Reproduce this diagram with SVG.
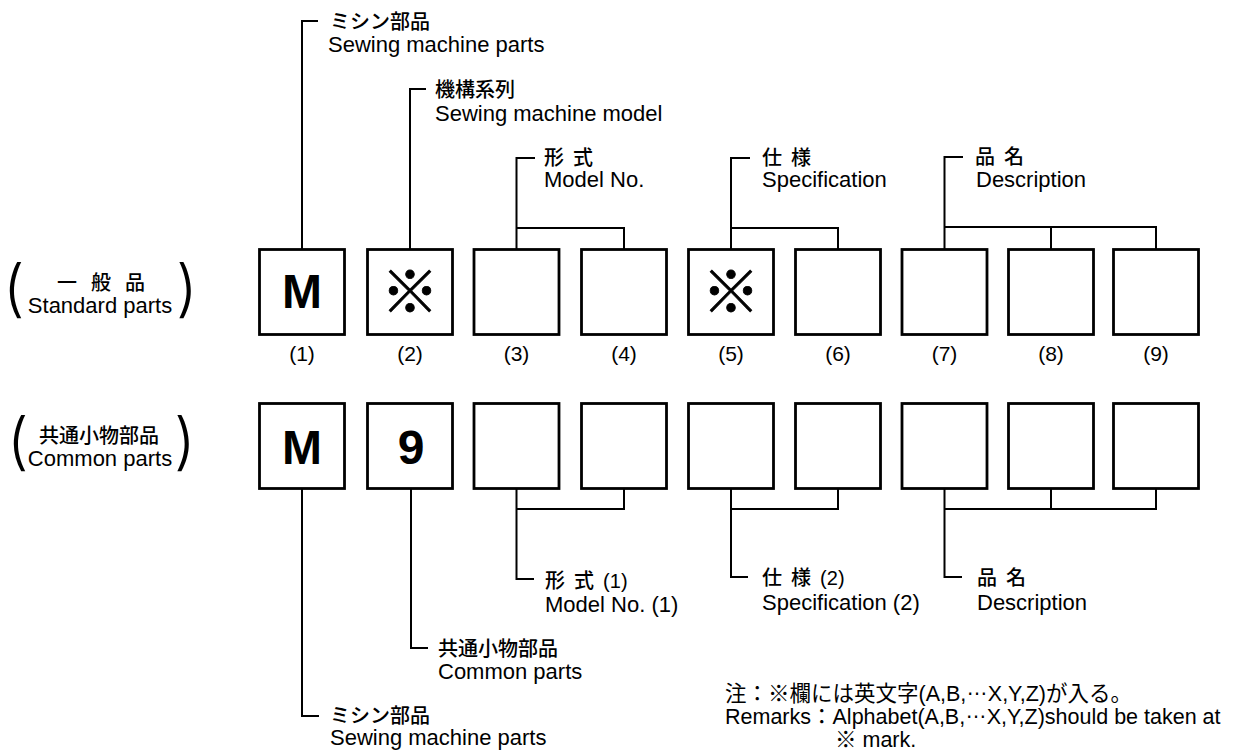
<svg xmlns="http://www.w3.org/2000/svg" width="1234" height="751" viewBox="0 0 1234 751">
<style>
.t{font-family:'Liberation Sans','Noto Sans CJK JP',sans-serif;font-size:22px;fill:#000}
.j{font-family:'Liberation Sans','Noto Sans CJK JP',sans-serif;font-size:20px;font-weight:500;fill:#000;word-spacing:3.5px}
.n{font-family:'Liberation Sans',sans-serif;font-size:21px;text-anchor:middle;fill:#000}
.box{fill:#fff;stroke:#000;stroke-width:2.8}
.big{font-family:'Liberation Sans',sans-serif;font-size:48px;font-weight:bold;text-anchor:middle;fill:#000}
.kome{font-family:'Noto Sans CJK JP',sans-serif;font-size:58px;font-weight:bold;text-anchor:middle;fill:#000;stroke:#000;stroke-width:0.8}
.c{fill:none;stroke:#000;stroke-width:2}
.p{font-family:Inter,'Liberation Sans',sans-serif;font-size:62px;font-weight:300;fill:#000}
.mid{text-anchor:middle}
.r{font-size:21.5px}
</style>
<rect width="1234" height="751" fill="#fff"/>

<g id="connectors" class="c">
<path d="M318,21 H302 V249.5"/>
<path d="M426,89 H410 V249.5"/>
<path d="M535,158 H516.5 V249.5 M516.5,228 H624 V249.5"/>
<path d="M750,158 H731 V249.5 M731,228 H838 V249.5"/>
<path d="M963,157 H944.5 V249.5 M944.5,227 H1156 V249.5 M1051,227 V249.5"/>
<path d="M302,488.5 V716 H319"/>
<path d="M411,488.5 V648 H428"/>
<path d="M516.5,488.5 V579 H534 M516.5,509 H624 V488.5"/>
<path d="M731,488.5 V577 H748 M731,509 H838 V488.5"/>
<path d="M944.5,488.5 V577 H962 M944.5,509 H1156 V488.5 M1051,509 V488.5"/>
</g>

<g id="row-standard-label">
<text class="p" x="3" y="310">(</text>
<text class="j" x="57 77 91 111 125" y="290">一 般 品</text>
<text class="t mid" x="100" y="313">Standard parts</text>
<text class="p" x="176" y="310">)</text>
</g>
<g id="row-common-label">
<text class="p" x="7" y="463">(</text>
<text class="j mid" x="99" y="443">共通小物部品</text>
<text class="t mid" x="100" y="466">Common parts</text>
<text class="p" x="174" y="463">)</text>
</g>

<g id="s1"><rect class="box" x="259.5" y="249.5" width="85" height="85"/><text class="big" x="302" y="308">M</text><text class="n" x="302" y="361">(1)</text></g>
<g id="s2"><rect class="box" x="367.5" y="249.5" width="85" height="85"/><text class="kome" x="410" y="313">※</text><text class="n" x="410" y="361">(2)</text></g>
<g id="s3"><rect class="box" x="474" y="249.5" width="85" height="85"/><text class="n" x="516.5" y="361">(3)</text></g>
<g id="s4"><rect class="box" x="581.5" y="249.5" width="85" height="85"/><text class="n" x="624" y="361">(4)</text></g>
<g id="s5"><rect class="box" x="688.5" y="249.5" width="85" height="85"/><text class="kome" x="731" y="313">※</text><text class="n" x="731" y="361">(5)</text></g>
<g id="s6"><rect class="box" x="795.5" y="249.5" width="85" height="85"/><text class="n" x="838" y="361">(6)</text></g>
<g id="s7"><rect class="box" x="902" y="249.5" width="85" height="85"/><text class="n" x="944.5" y="361">(7)</text></g>
<g id="s8"><rect class="box" x="1008.5" y="249.5" width="85" height="85"/><text class="n" x="1051" y="361">(8)</text></g>
<g id="s9"><rect class="box" x="1113.5" y="249.5" width="85" height="85"/><text class="n" x="1156" y="361">(9)</text></g>

<g id="c1"><rect class="box" x="259.5" y="403.5" width="85" height="85"/><text class="big" x="302" y="464">M</text></g>
<g id="c2"><rect class="box" x="367.5" y="403.5" width="85" height="85"/><text class="big" x="411" y="464">9</text></g>
<g id="c3"><rect class="box" x="474" y="403.5" width="85" height="85"/></g>
<g id="c4"><rect class="box" x="581.5" y="403.5" width="85" height="85"/></g>
<g id="c5"><rect class="box" x="688.5" y="403.5" width="85" height="85"/></g>
<g id="c6"><rect class="box" x="795.5" y="403.5" width="85" height="85"/></g>
<g id="c7"><rect class="box" x="902" y="403.5" width="85" height="85"/></g>
<g id="c8"><rect class="box" x="1008.5" y="403.5" width="85" height="85"/></g>
<g id="c9"><rect class="box" x="1113.5" y="403.5" width="85" height="85"/></g>

<g id="lbl-machine-top"><text class="j" x="330" y="29">ミシン部品</text><text class="t" x="328" y="52">Sewing machine parts</text></g>
<g id="lbl-model-series"><text class="j" x="435" y="97">機構系列</text><text class="t" x="435" y="121">Sewing machine model</text></g>
<g id="lbl-model-no"><text class="j" x="544" y="165">形 式</text><text class="t" x="544" y="187">Model No.</text></g>
<g id="lbl-spec"><text class="j" x="762" y="165">仕 様</text><text class="t" x="762" y="187">Specification</text></g>
<g id="lbl-desc"><text class="j" x="975" y="164">品 名</text><text class="t" x="976" y="187">Description</text></g>

<g id="lbl-model-no-1"><text class="j" x="545" y="588">形 式 (1)</text><text class="t" x="545" y="612">Model No. (1)</text></g>
<g id="lbl-spec-2"><text class="j" x="762" y="585">仕 様 (2)</text><text class="t" x="762" y="610">Specification (2)</text></g>
<g id="lbl-desc-2"><text class="j" x="977" y="585">品 名</text><text class="t" x="977" y="610">Description</text></g>
<g id="lbl-common"><text class="j" x="438" y="656">共通小物部品</text><text class="t" x="438" y="679">Common parts</text></g>
<g id="lbl-machine-bottom"><text class="j" x="330" y="723">ミシン部品</text><text class="t" x="330" y="745">Sewing machine parts</text></g>

<g id="remarks">
<text class="t r" x="725" y="701">注：※欄には英文字(A,B,<tspan dy="-6">…</tspan><tspan dy="6">X,Y,Z)が入る。</tspan></text>
<text class="t r" x="725" y="724">Remarks：Alphabet(A,B,<tspan dy="-6">…</tspan><tspan dy="6">X,Y,Z)should be taken at</tspan></text>
<text class="t r" x="835" y="747">※ mark.</text>
</g>
</svg>
